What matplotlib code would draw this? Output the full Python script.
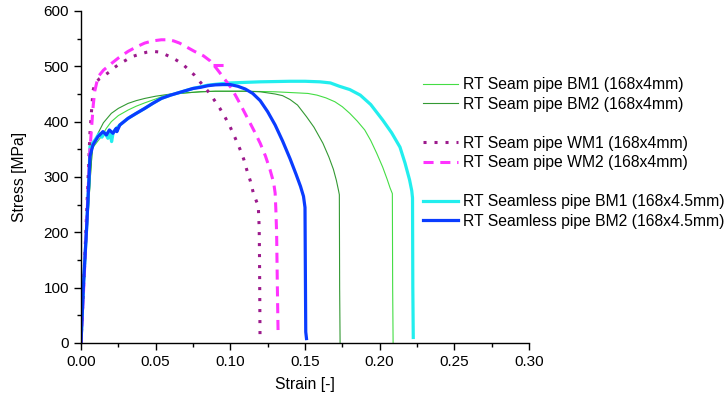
import matplotlib
matplotlib.use("Agg")
import matplotlib.pyplot as plt
from matplotlib.lines import Line2D
from matplotlib.ticker import MultipleLocator

plt.rcParams['font.family'] = ['Liberation Sans', 'DejaVu Sans']

# ---- data ----
seam_bm1_strain = [0, 0.002, 0.0045, 0.0065, 0.0076, 0.0136, 0.017, 0.0203, 0.025, 0.0315, 0.037, 0.0427,
                   0.05, 0.055, 0.06, 0.07, 0.08, 0.09, 0.11, 0.13, 0.145, 0.152, 0.158, 0.164, 0.170,
                   0.175, 0.180, 0.185, 0.190, 0.194, 0.198, 0.202, 0.205, 0.207, 0.2085, 0.2087, 0.209]
seam_bm1_stress = [0, 100, 220, 310, 352, 373, 388, 400, 411, 421, 428, 434,
                   441, 446, 449, 452, 454, 455, 455, 454, 452, 451, 448, 443, 436,
                   427, 415, 401, 385, 366, 343, 318, 296, 280, 270, 100, 0]

seam_bm2_strain = [0, 0.002, 0.0045, 0.0065, 0.0076, 0.0114, 0.015, 0.0203, 0.025, 0.0315, 0.037, 0.0427,
                   0.05, 0.055, 0.06, 0.07, 0.08, 0.09, 0.11, 0.12, 0.125, 0.13, 0.135, 0.14, 0.145,
                   0.151, 0.156, 0.162, 0.166, 0.169, 0.171, 0.1725, 0.173, 0.1732, 0.1735]
seam_bm2_stress = [0, 100, 220, 310, 350, 379, 398, 415, 424, 433, 438, 442,
                   446, 448, 450, 452, 454, 455, 455, 454, 452, 450, 447, 440, 430,
                   409, 390, 361, 336, 314, 294, 275, 268, 100, 0]

seam_wm1_strain = [0, 0.002, 0.004, 0.006, 0.008, 0.0092, 0.0125, 0.016, 0.019, 0.0225, 0.026, 0.03,
                   0.0337, 0.037, 0.0404, 0.044, 0.048, 0.052, 0.055, 0.06, 0.064, 0.068, 0.0717, 0.076,
                   0.0797, 0.085, 0.089, 0.093, 0.0965, 0.0998, 0.103, 0.1065, 0.109, 0.111, 0.1135,
                   0.1154, 0.1175, 0.1187, 0.1193, 0.1195, 0.1197, 0.1199]
seam_wm1_stress = [0, 120, 250, 380, 455, 469, 478, 484, 490, 498, 505, 511,
                   517, 520, 523, 525.5, 527, 526, 523, 517, 511, 504, 495, 484,
                   472, 455, 440, 424, 408, 391, 372, 350, 332, 313, 292,
                   271, 256, 249, 210, 168, 90, 2]

seam_wm2_strain = [0, 0.002, 0.004, 0.006, 0.0082, 0.0092, 0.0114, 0.015, 0.0203, 0.025, 0.0315, 0.037,
                   0.0426, 0.048, 0.0538, 0.058, 0.062, 0.066, 0.07, 0.076, 0.082, 0.0864, 0.0905,
                   0.0942, 0.1009, 0.106, 0.111, 0.116, 0.12, 0.1235, 0.1266, 0.129, 0.130, 0.1305,
                   0.131, 0.1315, 0.132]
seam_wm2_stress = [0, 110, 230, 350, 430, 455, 481, 493, 505, 515, 527, 535,
                   542, 546, 548, 548, 546, 542, 536, 527, 519, 510, 497,
                   484, 460, 435, 409, 383, 361, 338, 313, 290, 271, 240,
                   198, 100, 14]
seam_wm2_hook_strain = [0.0885, 0.092, 0.0985]
seam_wm2_hook_stress = [503, 503, 503]

seamless_bm1_strain = [0, 0.0016, 0.0038, 0.0054, 0.006, 0.0094, 0.012, 0.014, 0.016, 0.018, 0.0195, 0.0205,
                       0.0215, 0.023, 0.026, 0.0315, 0.037, 0.0427, 0.048, 0.0538, 0.06, 0.065, 0.07, 0.075,
                       0.08, 0.085, 0.09, 0.095, 0.10, 0.11, 0.12, 0.13, 0.14, 0.15, 0.16, 0.167, 0.173,
                       0.18, 0.187, 0.194, 0.202, 0.208, 0.2136, 0.217, 0.220, 0.2215, 0.222, 0.2222, 0.2225]
seamless_bm1_stress = [0, 102, 210, 300, 355, 367, 378, 372, 380, 370, 378, 364,
                       380, 386, 394, 406, 415, 424, 433, 442, 448, 452, 456, 460,
                       463, 466, 467.5, 469, 470, 471, 472, 472.5, 473, 473, 472, 470, 464,
                       458, 448, 431, 403, 380, 354, 325, 295, 275, 262, 100, 10]

seamless_bm2_strain = [0, 0.0016, 0.0038, 0.0054, 0.006, 0.008, 0.0114, 0.0147, 0.017, 0.019, 0.0214, 0.0236,
                       0.024, 0.026, 0.0315, 0.037, 0.0427, 0.048, 0.0538, 0.06, 0.065, 0.07, 0.075, 0.08,
                       0.085, 0.09, 0.095, 0.10, 0.105, 0.11, 0.115, 0.12, 0.125, 0.13, 0.135, 0.14, 0.144,
                       0.147, 0.149, 0.150, 0.1502, 0.1505, 0.151]
seamless_bm2_stress = [0, 102, 210, 300, 337, 358, 373, 382, 376, 385, 379, 388,
                       382, 394, 406, 415, 424, 433, 442, 448, 452, 456, 460, 462,
                       465, 466.5, 467, 467, 464, 459, 451, 438, 418, 394, 365, 333, 305,
                       283, 265, 245, 150, 20, 8]

labels = ["RT Seam pipe BM1 (168x4mm)", "RT Seam pipe BM2 (168x4mm)",
          "RT Seam pipe WM1 (168x4mm)", "RT Seam pipe WM2 (168x4mm)",
          "RT Seamless pipe BM1 (168x4.5mm)", "RT Seamless pipe BM2 (168x4.5mm)"]

# ---- figure ----
fig = plt.figure(figsize=(7.28, 3.99), dpi=100)
ax = fig.add_axes([81/728, 1 - 343/399, (529-81)/728, (343-11)/399])

c_bm1 = '#44dd44'
c_bm2 = '#339933'
c_wm1 = '#9c1a8c'
c_wm2 = '#ff33ff'
c_sl1 = '#22eeee'
c_sl2 = '#0a3cff'

h1, = ax.plot(seam_bm1_strain, seam_bm1_stress, color=c_bm1, lw=0.8)
h2, = ax.plot(seam_bm2_strain, seam_bm2_stress, color=c_bm2, lw=0.8)
h5, = ax.plot(seamless_bm1_strain, seamless_bm1_stress, color=c_sl1, lw=2.3)
h3, = ax.plot(seam_wm1_strain, seam_wm1_stress, color=c_wm1, lw=2.2, linestyle=(0, (1, 2.6)))
h4, = ax.plot(seam_wm2_strain, seam_wm2_stress, color=c_wm2, lw=2.2, linestyle=(0, (3.3, 2.2)))
ax.plot(seam_wm2_hook_strain, seam_wm2_hook_stress, color=c_wm2, lw=2.2, linestyle=(0, (3.3, 2.2)))
h6, = ax.plot(seamless_bm2_strain, seamless_bm2_stress, color=c_sl2, lw=2.3)

ax.set_xlim(0, 0.30)
ax.set_ylim(0, 600)
ax.xaxis.set_major_locator(MultipleLocator(0.05))
ax.xaxis.set_minor_locator(MultipleLocator(0.025))
ax.yaxis.set_major_locator(MultipleLocator(100))
ax.yaxis.set_minor_locator(MultipleLocator(50))
ax.xaxis.set_major_formatter(plt.FuncFormatter(lambda v, p: f"{v:.2f}"))
ax.spines['top'].set_visible(False)
ax.spines['right'].set_visible(False)
for s in ('left', 'bottom'):
    ax.spines[s].set_linewidth(1.0)
ax.tick_params(which='major', direction='out', length=5, width=1, labelsize=11)
ax.tick_params(which='minor', direction='out', length=3, width=1)
ax.set_xlabel("Strain [-]", fontsize=11.3, labelpad=6)
ax.set_ylabel("Stress [MPa]", fontsize=11.3, labelpad=12)

blank = Line2D([], [], color='none')
handles = [h1, h2, blank, h3, h4, blank, h5, h6]
labs = [labels[0], labels[1], "", labels[2], labels[3], "", labels[4], labels[5]]
fig.legend(handles, labs, loc='upper left', bbox_to_anchor=(423/728, 1 - 77/399),
           frameon=False, fontsize=11.3, handlelength=2.25, handletextpad=0.3,
           labelspacing=0.29, borderpad=0, borderaxespad=0)

fig.savefig("out.png", dpi=100)
